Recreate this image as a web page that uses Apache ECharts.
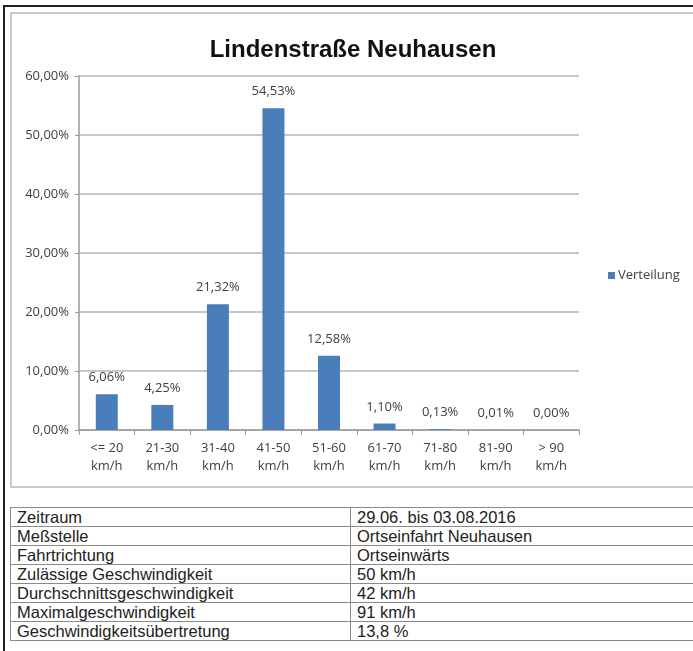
<!DOCTYPE html>
<html>
<head>
<meta charset="utf-8">
<script src="https://cdn.jsdelivr.net/npm/echarts@6/dist/echarts.min.js"></script>
<style>
html, body { margin: 0; padding: 0; width: 693px; height: 651px; overflow: hidden; background: #fff; }
.outer {
    position: absolute; left: 3px; top: 5px; width: 760px; height: 700px;
    border-left: 2px solid #222; border-top: 2px solid #222;
}
.chart-box {
    position: absolute; left: 10px; top: 12px; width: 720px; height: 472px;
    border: 2px solid #c8c8c8;
}
.chart { position: absolute; left: 0; top: 0; width: 682px; height: 472px; }
table.info {
    position: absolute; left: 10px; top: 507px; width: 720px;
    border-collapse: collapse;
    font-family: "Liberation Sans", Arial, sans-serif; font-size: 16.5px; color: #222;
}
table.info td {
    border: 1.5px solid #8a8a8a; height: 18px; padding: 0 0 0 6px; line-height: 18px;
}
table.info td.k { width: 333px; }
</style>
</head>
<body>
<div class="outer"></div>
<div class="chart-box"><div id="myChart" class="chart"></div></div>
<table class="info" id="info"></table>
<script>
// Geschwindigkeitsklassen
let categories = ['<= 20\nkm/h', '21-30\nkm/h', '31-40\nkm/h', '41-50\nkm/h', '51-60\nkm/h',
    '61-70\nkm/h', '71-80\nkm/h', '81-90\nkm/h', '> 90\nkm/h'];
// Anteil in %
let verteilung = [6.06, 4.25, 21.32, 54.53, 12.58, 1.10, 0.13, 0.01, 0.00];

let tableKeys = ['Zeitraum', 'Meßstelle', 'Fahrtrichtung', 'Zulässige Geschwindigkeit',
    'Durchschnittsgeschwindigkeit', 'Maximalgeschwindigkeit', 'Geschwindigkeitsübertretung'];
let tableValues = ['29.06. bis 03.08.2016', 'Ortseinfahrt Neuhausen', 'Ortseinwärts', '50 km/h',
    '42 km/h', '91 km/h', '13,8 %'];

function pct(v) {
    return v.toFixed(2).replace('.', ',') + '%';
}

let font = 'Open Sans';
let option = {
    animation: false,
    title: {
        text: 'Lindenstraße Neuhausen',
        left: 'center',
        top: 19,
        textStyle: {
            fontFamily: 'Liberation Sans',
            fontWeight: 'bold',
            fontSize: 24,
            color: '#111'
        }
    },
    legend: {
        show: true,
        left: 591,
        top: 250,
        itemWidth: 7,
        itemHeight: 7,
        itemGap: 4,
        icon: 'rect',
        textStyle: { fontFamily: font, fontSize: 13, color: '#404040', padding: [0, 0, 0, -2] }
    },
    grid: {
        left: 67,
        top: 62,
        width: 500,
        height: 354
    },
    xAxis: {
        type: 'category',
        data: categories,
        axisLine: { lineStyle: { color: '#9a9a9a', width: 1.5 } },
        axisTick: { show: true, length: 5, lineStyle: { color: '#9a9a9a' } },
        axisLabel: {
            fontFamily: font, fontSize: 13, color: '#404040',
            lineHeight: 18, margin: 9
        }
    },
    yAxis: {
        type: 'value',
        min: 0,
        max: 60,
        interval: 10,
        axisLine: { show: true, lineStyle: { color: '#9a9a9a', width: 1.5 } },
        axisTick: { show: true, length: 4, lineStyle: { color: '#9a9a9a' } },
        splitLine: { lineStyle: { color: '#b4b4b4', width: 1.5 } },
        axisLabel: {
            fontFamily: font, fontSize: 13, color: '#404040', margin: 10,
            formatter: function (v) { return pct(v); }
        }
    },
    series: [
        {
            name: 'Verteilung',
            type: 'bar',
            data: verteilung,
            barWidth: 22,
            itemStyle: { color: '#4a7ebb' },
            label: {
                show: true,
                position: 'top',
                distance: 10,
                fontFamily: font,
                fontSize: 13,
                color: '#404040',
                formatter: function (p) { return pct(p.value); }
            }
        }
    ]
};

let mychart = echarts.init(document.getElementById('myChart'));
mychart.setOption(option);

let html = '';
tableKeys.forEach((k, i) => {
    html += '<tr><td class="k">' + k + '</td><td>' + tableValues[i] + '</td></tr>';
});
document.getElementById('info').innerHTML = html;
</script>
</body>
</html>
